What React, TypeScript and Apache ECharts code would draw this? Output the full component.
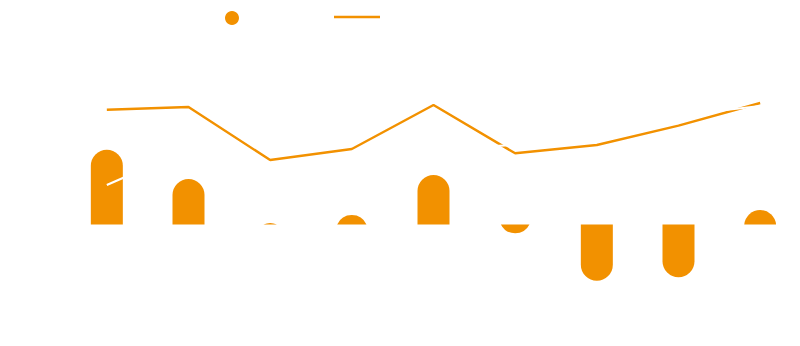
import React, { useEffect, useRef } from "react";
import * as echarts from "echarts";

const categories = ["Jan", "Feb", "Mar", "Apr", "May", "Jun", "Jul", "Aug", "Sep"];
const barValues = [37.4, 22.75, 0.75, 4.75, 24.75, -4.4, -28.1, -26.4, 7.25];
const lineValues = [57.4, 58.75, 32.25, 37.75, 59.75, 35.6, 39.75, 49.4, 60.75];
const hiddenLineValues = [19.75, 37.6, 26.25, 29.75, 37.75, 39.75, 48.25, 54.5, 59.25];
const seriesNames = ["Change", "Index", "Baseline"];

const ORANGE = "#f29100";
const LINE_ICON = "path://M0,0 L46,0 L46,2.4 L0,2.4 Z";

export default function App() {
  const ref = useRef<HTMLDivElement>(null);
  useEffect(() => {
    if (!ref.current) return;
    const chart = echarts.init(ref.current, null, { renderer: "svg" });
    const R = 16;
    const renderItem = (params: any, api: any) => {
      const x = api.value(0);
      const v = api.value(1);
      const tip = api.coord([x, v]);
      const base = api.coord([x, 0]);
      const cx = tip[0];
      const b = base[1];
      const t = tip[1];
      const h = Math.abs(b - t);
      const x0 = cx - R;
      const x1 = cx + R;
      let d = "";
      if (v >= 0) {
        if (h >= R) {
          d = `M${x0},${b} L${x0},${t + R} A${R},${R} 0 0 1 ${x1},${t + R} L${x1},${b} Z`;
        } else {
          const hw = Math.sqrt(R * R - (R - h) * (R - h));
          d = `M${cx - hw},${b} A${R},${R} 0 0 1 ${cx + hw},${b} Z`;
        }
      } else {
        if (h >= R) {
          d = `M${x0},${b} L${x0},${t - R} A${R},${R} 0 0 0 ${x1},${t - R} L${x1},${b} Z`;
        } else {
          const hw = Math.sqrt(R * R - (R - h) * (R - h));
          d = `M${cx - hw},${b} A${R},${R} 0 0 0 ${cx + hw},${b} Z`;
        }
      }
      return {
        type: "path",
        shape: { pathData: d },
        style: { fill: ORANGE },
      };
    };
    const legendCommon = {
      top: 6,
      itemWidth: 46,
      itemHeight: 14,
      textStyle: { color: "#ffffff", fontSize: 12 },
    };
    chart.setOption({
      animation: false,
      legend: [
        { ...legendCommon, left: 220, data: [{ name: seriesNames[0], icon: "circle" }] },
        { ...legendCommon, left: 329, data: [{ name: seriesNames[1], icon: LINE_ICON }] },
        { ...legendCommon, left: 460, data: [{ name: seriesNames[2], icon: LINE_ICON }] },
      ],
      grid: { left: 66, right: 7, top: 24.5, bottom: 21.5, outerBoundsMode: "none" },
      xAxis: {
        type: "category",
        data: categories,
        axisLine: { show: false },
        axisTick: { show: false },
        axisLabel: { color: "#ffffff" },
        splitLine: { show: false },
      },
      yAxis: {
        type: "value",
        min: -50,
        max: 100,
        interval: 25,
        axisLine: { show: false },
        axisTick: { show: false },
        axisLabel: { color: "#ffffff" },
        splitLine: { show: false },
      },
      series: [
        {
          name: seriesNames[0],
          type: "custom",
          renderItem,
          itemStyle: { color: ORANGE },
          encode: { x: 0, y: 1 },
          data: barValues.map((v, i) => [i, v]),
        },
        {
          name: seriesNames[1],
          type: "line",
          data: lineValues,
          symbol: "none",
          showSymbol: false,
          itemStyle: { color: ORANGE },
          lineStyle: { color: ORANGE, width: 2.4 },
        },
        {
          name: seriesNames[2],
          type: "line",
          data: hiddenLineValues,
          symbol: "none",
          showSymbol: false,
          itemStyle: { color: "#ffffff" },
          lineStyle: { color: "#ffffff", width: 2.2 },
        },
      ],
    });
    return () => chart.dispose();
  }, []);
  return (
    <div
      ref={ref}
      style={{ position: "fixed", left: 0, top: 0, width: 808, height: 346 }}
    />
  );
}
